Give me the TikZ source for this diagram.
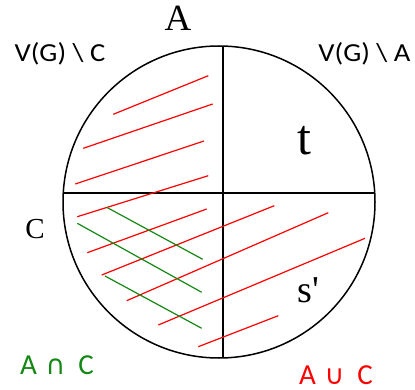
\documentclass[tikz,border=0pt]{standalone}
\usepackage{fontspec}
\usepackage{tikz}
\setmainfont{Liberation Serif}
\newfontfamily\widefont[FakeStretch=1.1]{Carlito}
\newfontfamily\setfont{Carlito}
\newfontfamily\symfont{DejaVu Sans}
\definecolor{setgreen}{RGB}{20,135,20}

\begin{document}
\begin{tikzpicture}[x=1pt,y=-1pt,
  redline/.style={red,line width=1.2pt},
  greenline/.style={setgreen,line width=1.2pt}]
\useasboundingbox (0,0) rectangle (415,390);
\draw[line width=1.5pt] (219,202) circle [radius=156pt];
\draw[line width=1.5pt] (223,46.05) -- (223,357.95);
\draw[line width=1.5pt] (63.26,193) -- (374.74,193);
% red hatching
\draw[redline] (113.3,114.3) -- (208.3,75.7);
\draw[redline] (83.3,148.3) -- (212.7,104);
\draw[redline] (75.3,184) -- (204,141);
\draw[redline] (77.3,216.7) -- (208.3,175.7);
\draw[redline] (87.3,252.7) -- (206.7,209);
\draw[redline] (101.7,275) -- (274.3,205.7);
\draw[redline] (126.7,300.7) -- (328.3,212.7);
\draw[redline] (158.3,325) -- (365,238.3);
\draw[redline] (198.3,346.7) -- (278.3,315.7);
% green hatching
\draw[greenline] (106.7,207.3) -- (202.7,259.3);
\draw[greenline] (77.3,223.3) -- (201.7,292.3);
\draw[greenline] (105,276) -- (201.7,328.3);
% labels
\node[anchor=base,inner sep=0] (labA) at (178,31) {\fontsize{37}{40}\selectfont A};
\node[anchor=base,inner sep=0] (labVC) at (60,61.5) {\widefont\fontsize{26}{28}\selectfont V(G) \textbackslash{} C};
\node[anchor=base,inner sep=0] (labVA) at (364.5,61.5) {\widefont\fontsize{26}{28}\selectfont V(G) \textbackslash{} A};
\node[anchor=base,inner sep=0] (labt) at (304.5,155) {\fontsize{50}{54}\selectfont t};
\node[anchor=base,inner sep=0] (labC) at (35,238.5) {\fontsize{29}{32}\selectfont C};
\node[anchor=base,inner sep=0] (labs) at (308.5,302) {\fontsize{38}{42}\selectfont s\textquotesingle};
\node[anchor=base,inner sep=0,text=setgreen] (labAnC) at (57,374.5) {\setfont\fontsize{29}{32}\selectfont A\hspace{0.3em}{\symfont\fontsize{27}{30}\selectfont ∩}\hspace{0.45em}C};
\node[anchor=base,inner sep=0,text=red] (labAuC) at (336,384) {\setfont\fontsize{29}{32}\selectfont A\hspace{0.3em}{\symfont\fontsize{27}{30}\selectfont ∪}\hspace{0.45em}C};
\end{tikzpicture}
\end{document}
